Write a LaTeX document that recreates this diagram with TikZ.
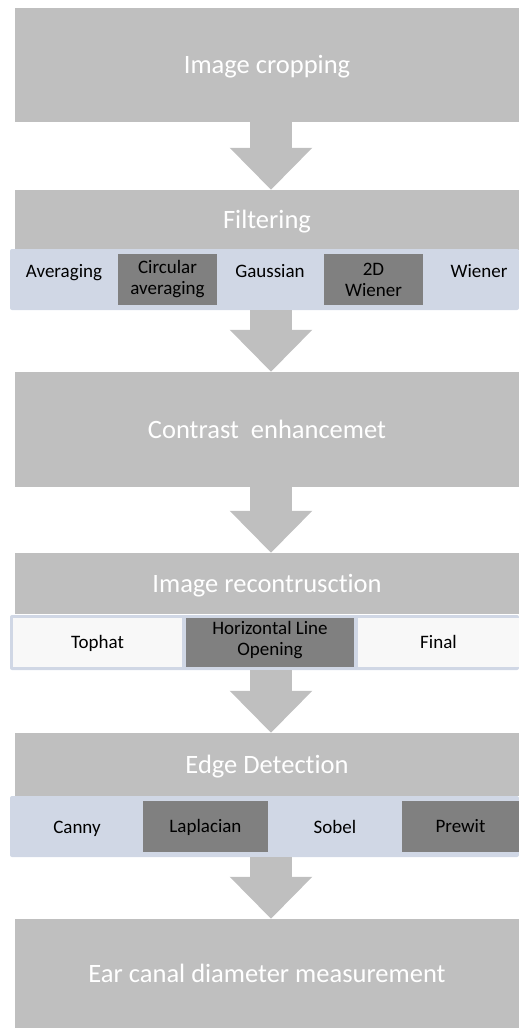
\documentclass[tikz,border=0pt]{standalone}
\usepackage{fontspec}
\setmainfont[Ligatures=NoCommon]{Carlito}
\usetikzlibrary{arrows.meta}

\definecolor{stagegray}{HTML}{BFBFBF}
\definecolor{bandblue}{HTML}{D0D7E5}
\definecolor{celldark}{HTML}{808080}
\definecolor{cellwhite}{HTML}{F8F8F8}

\begin{document}
\begin{tikzpicture}[x=1pt, y=-1pt,
      stage/.style = {shape=rectangle, fill=stagegray, text=white,
        minimum width=504pt, inner sep=0pt,
        text height=17pt, text depth=0pt,
        font=\fontsize{26.5}{30}\selectfont},
      band/.style = {shape=rectangle, rounded corners=2pt, fill=bandblue,
        minimum width=509pt, inner sep=0pt},
      cell/.style = {shape=rectangle, inner sep=0pt, align=center,
        font=\fontsize{19}{21}\selectfont},
      onecell/.style = {cell, text height=12.2pt, text depth=0pt},
      item/.style = {anchor=base, inner sep=0pt,
        font=\fontsize{19}{21}\selectfont},
      flowarrow/.style = {stagegray, line width=42pt,
        -{Triangle[width=80pt,length=42pt]}}]
  \useasboundingbox (0,0) rectangle (519,1028);

  % main steps
  \node[stage, minimum height=114pt] (crop) at (267,65) {Image cropping};
  \node[stage, minimum height=60pt] (filt) at (267,220) {Filtering};
  \node[stage, minimum height=115pt] (contrast) at (267,429.5) {Contrast\ \ enhancemet};
  \node[stage, minimum height=61pt] (recon) at (267,583.5) {Image recontrusction};
  \node[stage, minimum height=63pt] (edge) at (267,764.5) {Edge Detection};
  \node[stage, minimum height=109pt] (measure) at (267,973.5) {Ear canal diameter measurement};

  % filtering methods
  \node[band, minimum height=61pt] (filtband) at (264.5,279.5) {};
  \node[item] (avg) at (64,277) {Averaging};
  \node[cell, fill=celldark, minimum width=99pt, minimum height=51pt] (circavg) at (167.5,279.5) {Circular\\averaging};
  \node[item] (gauss) at (270,277) {Gaussian};
  \node[cell, fill=celldark, minimum width=99pt, minimum height=51pt] (wiener2d) at (373.5,279.5) {2D\\Wiener};
  \node[item] (wiener) at (479,277) {Wiener};

  % reconstruction methods
  \node[band, minimum height=55pt] (reconband) at (264.5,642.5) {};
  \node[onecell, fill=cellwhite, minimum width=169pt, minimum height=49pt] (tophat) at (97.5,642.5) {Tophat};
  \node[cell, fill=celldark, minimum width=168pt, minimum height=49pt] (hlopen) at (270,642.5) {Horizontal Line\\Opening\rule[-9pt]{0pt}{0pt}};
  \node[onecell, fill=cellwhite, minimum width=161pt, minimum height=49pt] (final) at (438.5,642.5) {Final};

  % edge detectors
  \node[band, minimum height=61pt] (edgeband) at (264.5,826.5) {};
  \node[item] (canny) at (77,833) {Canny};
  \node[onecell, fill=celldark, minimum width=125pt, minimum height=51pt] (laplace) at (205.5,826.5) {Laplacian};
  \node[item] (sobel) at (335,833) {Sobel};
  \node[onecell, fill=celldark, minimum width=117pt, minimum height=51pt] (prewit) at (460.5,826.5) {Prewit};

  \draw[flowarrow] ([xshift=4pt]crop.south) -- ([xshift=4pt]filt.north);
  \draw[flowarrow] ([xshift=6.5pt]filtband.south) -- ([xshift=4pt]contrast.north);
  \draw[flowarrow] ([xshift=4pt]contrast.south) -- ([xshift=4pt]recon.north);
  \draw[flowarrow] ([xshift=6.5pt]reconband.south) -- ([xshift=4pt]edge.north);
  \draw[flowarrow] ([xshift=6.5pt]edgeband.south) -- ([xshift=4pt]measure.north);
\end{tikzpicture}
\end{document}
